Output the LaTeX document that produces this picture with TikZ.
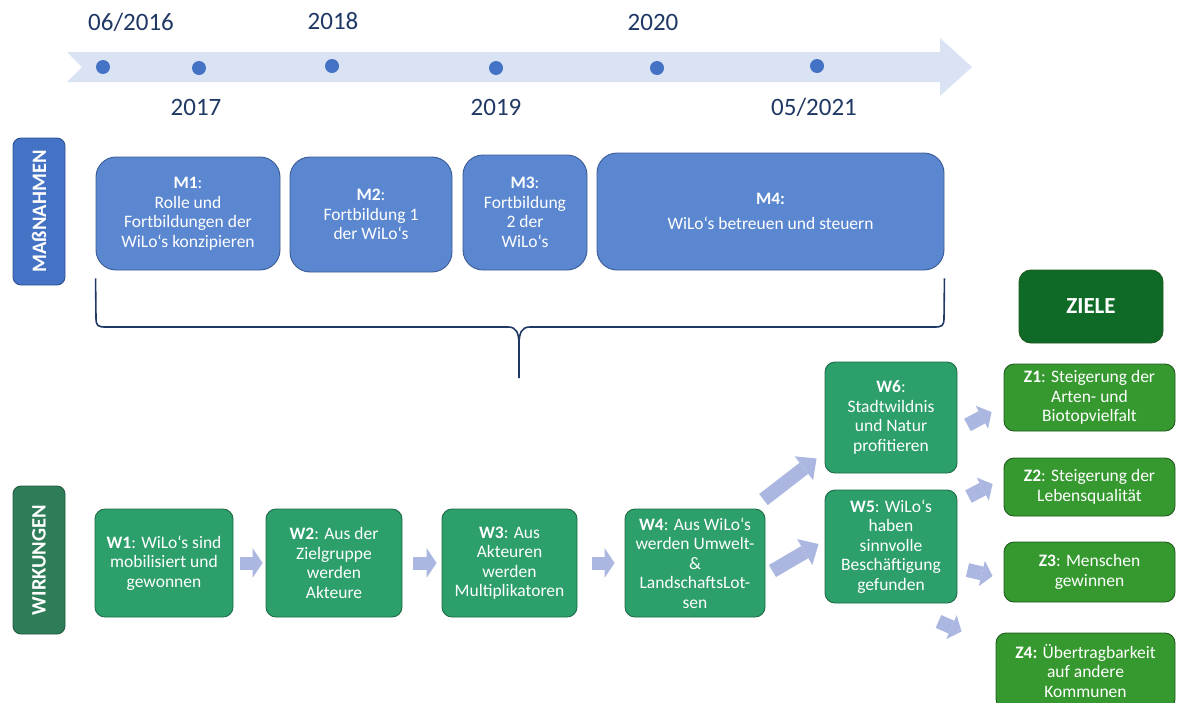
\documentclass[tikz,border=0pt]{standalone}
\usepackage{fontspec}
\setmainfont{Carlito}
\usetikzlibrary{arrows.meta,calc}
\definecolor{mblue}{HTML}{5B87D0}
\definecolor{mborder}{HTML}{3A5A94}
\definecolor{labblue}{HTML}{4472C4}
\definecolor{labbord}{HTML}{2F528F}
\definecolor{wgreen}{HTML}{2C9F6B}
\definecolor{wborder}{HTML}{1D6B46}
\definecolor{labgreen}{HTML}{2F7D58}
\definecolor{labgbord}{HTML}{1E5A3E}
\definecolor{zgreen}{HTML}{36992F}
\definecolor{zborder}{HTML}{1E5A1C}
\definecolor{zielegreen}{HTML}{0F6A28}
\definecolor{arrowc}{HTML}{ABB7E0}
\definecolor{bandc}{HTML}{DAE3F3}
\definecolor{navy}{HTML}{1F3864}
\begin{document}
\begin{tikzpicture}[x=1pt,y=-1pt,
  boxtxt/.style={text=white, align=center, inner sep=0pt, line width=0.9pt,
    font=\fontsize{17.5}{19.5}\selectfont},
  mbox/.style={boxtxt, rounded corners=20pt, fill=mblue, draw=mborder},
  wbox/.style={boxtxt, rounded corners=10pt, fill=wgreen, draw=wborder},
  zbox/.style={boxtxt, rounded corners=10pt, fill=zgreen, draw=zborder},
  sidelab/.style={rotate=90, text=white, inner sep=0pt, line width=0.9pt,
    rounded corners=8pt, font=\fontsize{20.5}{22}\selectfont\bfseries},
  yearlab/.style={text=navy, inner sep=0pt, font=\fontsize{25}{30}\selectfont},
  tdot/.style={circle, fill=labblue, minimum size=14pt, inner sep=0pt},
  harrow/.style={arrowc, line width=13pt, -{Triangle[length=10pt,width=30pt,line width=0pt]}},
  darrow/.style={arrowc, line width=14pt, -{Triangle[length=16pt,width=30pt,line width=0pt]}},
  sarrow/.style={arrowc, line width=14pt, -{Triangle[length=11pt,width=26pt,line width=0pt]}},
  bracec/.style={navy, line width=1.6pt}
]
\useasboundingbox (0,0) rectangle (1177,702);
\clip (0,0) rectangle (1177,702);

% timeline band
\fill[bandc] (67,52) -- (940,52) -- (940,38) -- (972,67) -- (940,96) -- (940,82) -- (67,82) -- (82,67) -- cycle;
\node[tdot] (d1) at (103,67) {};
\node[tdot] (d2) at (199,68) {};
\node[tdot] (d3) at (332,66) {};
\node[tdot] (d4) at (496,68) {};
\node[tdot] (d5) at (657,68) {};
\node[tdot] (d6) at (817,66) {};
\node[yearlab] (y1) at (131,22) {06/2016};
\node[yearlab] (y2) at (196,107) {2017};
\node[yearlab] (y3) at (333,21) {2018};
\node[yearlab] (y4) at (496,107) {2019};
\node[yearlab] (y5) at (653,22) {2020};
\node[yearlab] (y6) at (814,107) {05/2021};

% side labels
\node[sidelab, fill=labblue, draw=labbord, minimum width=147pt, minimum height=52pt] (lm) at (39,211.5) {MAßNAHMEN};
\node[sidelab, fill=labgreen, draw=labgbord, minimum width=148pt, minimum height=52pt] (lw) at (39,560) {WIRKUNGEN};

% Massnahmen
\node[mbox, minimum width=184pt, minimum height=113pt] (M1) at (188,213.5)
  {\textbf{M1}:\\Rolle und\\Fortbildungen der\\WiLo‘s konzipieren};
\node[mbox, minimum width=162pt, minimum height=115pt] (M2) at (371,214.5)
  {\textbf{M2}:\\Fortbildung 1\\der WiLo‘s};
\node[mbox, minimum width=124pt, minimum height=115pt] (M3) at (525,212.5)
  {\textbf{M3}:\\Fortbildung\\2 der\\WiLo‘s};
\node[mbox, minimum width=347pt, minimum height=117pt] (M4) at (770.5,211.5)
  {\textbf{M4:}\\[5pt]WiLo‘s betreuen und steuern};

% brace
\coordinate (bl) at ($(M1.south west)+(0,8)$);
\coordinate (br) at ($(M4.south east)+(0,8)$);
\coordinate (bt) at (519,378);
\draw[bracec] (bl) -- (96,318) .. controls (96,326) and (98,327) .. (106,327)
  -- (508,327) .. controls (516,327) and (519,332) .. (519,345) -- (bt);
\draw[bracec] (br) -- (944,318) .. controls (944,326) and (942,327) .. (934,327)
  -- (530,327) .. controls (522,327) and (519,332) .. (519,345);

% Ziele header
\node[boxtxt, rounded corners=12pt, fill=zielegreen, draw=zborder, minimum width=144pt, minimum height=73pt,
  font=\fontsize{23}{26}\selectfont\bfseries] (ZL) at (1091,306.5) {ZIELE};

% Wirkungen
\node[wbox, minimum width=138pt, minimum height=108pt] (W1) at (164,563)
  {\textbf{W1}: WiLo‘s sind\\mobilisiert und\\gewonnen};
\node[wbox, minimum width=136pt, minimum height=108pt] (W2) at (334,563)
  {\textbf{W2}: Aus der\\Zielgruppe\\werden\\Akteure};
\node[wbox, minimum width=135pt, minimum height=108pt] (W3) at (509.5,563)
  {\textbf{W3}: Aus\\Akteuren\\werden\\Multiplikatoren};
\node[wbox, minimum width=140pt, minimum height=108pt] (W4) at (695,563)
  {\textbf{W4}: Aus WiLo‘s\\werden Umwelt-\\\&\\LandschaftsLot-\\sen};
\node[wbox, minimum width=132pt, minimum height=111pt] (W6) at (891,417.5)
  {\textbf{W6}:\\Stadtwildnis\\und Natur\\profitieren};
\node[wbox, minimum width=132pt, minimum height=113pt] (W5) at (891,546.5)
  {\textbf{W5}: WiLo‘s\\haben\\sinnvolle\\Beschäftigung\\gefunden};

% Ziele
\node[zbox, minimum width=171pt, minimum height=67pt] (Z1) at (1089.5,397.5)
  {\textbf{Z1}: Steigerung der\\Arten- und\\Biotopvielfalt};
\node[zbox, minimum width=171pt, minimum height=58pt] (Z2) at (1089.5,487)
  {\textbf{Z2}: Steigerung der\\Lebensqualität};
\node[zbox, minimum width=171pt, minimum height=60pt] (Z3) at (1089.5,572)
  {\textbf{Z3}: Menschen\\gewinnen};
\node[zbox, minimum width=179pt, minimum height=76pt] (Z4) at (1085.5,671)
  {\textbf{Z4:} Übertragbarkeit\\auf andere\\Kommunen};

% block arrows
\draw[harrow] ([xshift=7pt]W1.east) -- ([xshift=-3pt]W2.west);
\draw[harrow] ([xshift=11pt]W2.east) -- ([xshift=-5pt]W3.west);
\draw[harrow] ([xshift=15pt]W3.east) -- ([xshift=-10pt]W4.west);
\draw[darrow] ($(W4.north east)+(-2,-9)$) -- ($(W6.south west)+(-8,-15)$);
\draw[darrow] ($(W4.east)+(7,8)$) -- ($(W5.west)+(-6,-2.5)$);
\draw[sarrow] ($(W6.east)+(10,7.5)$) -- ($(Z1.west)+(-12,14.5)$);
\draw[sarrow] ($(W5.north east)+(11,7)$) -- ($(Z2.west)+(-11,-3)$);
\draw[sarrow] ($(W5.east)+(10,23.5)$) -- ($(Z3.west)+(-11,4)$);
\draw[sarrow] ($(W5.south east)+(-19,18)$) -- ($(Z4.north west)+(-34,-1)$);
\end{tikzpicture}
\end{document}
